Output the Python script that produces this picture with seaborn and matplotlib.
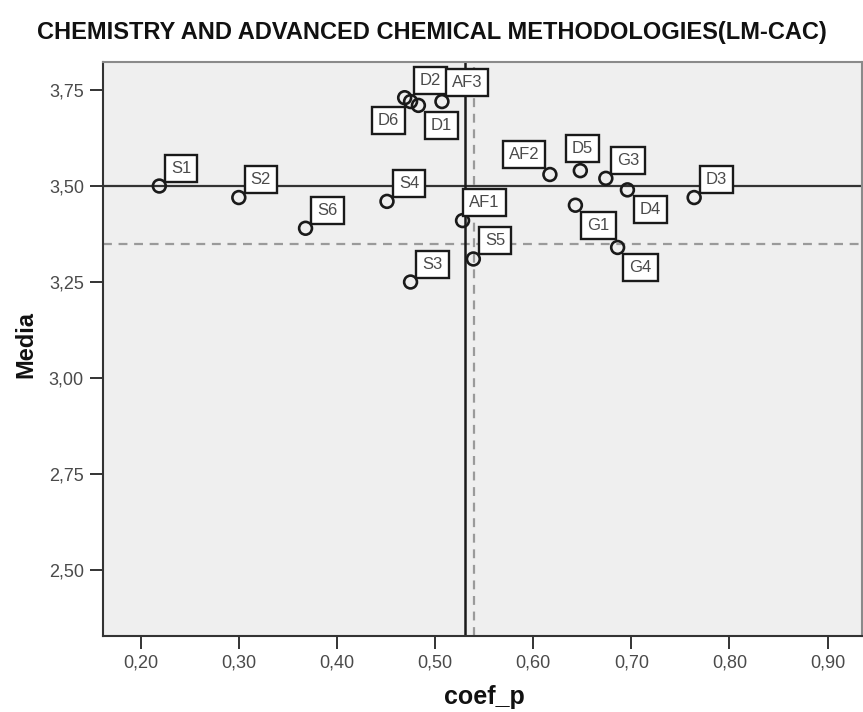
import pandas as pd
import numpy as np
import matplotlib
matplotlib.use("Agg")
import matplotlib.pyplot as plt
import seaborn as sns

# item labels, p coefficient and mean score
labels = ['S1', 'S2', 'S6', 'S4', 'S3', 'D6', 'D2', 'D1', 'AF3',
          'AF1', 'S5', 'AF2', 'G1', 'D5', 'G3', 'G4', 'D4', 'D3']
coef_p = [0.219, 0.300, 0.368, 0.451, 0.475, 0.469, 0.475, 0.483, 0.507,
          0.528, 0.539, 0.617, 0.643, 0.648, 0.674, 0.686, 0.696, 0.764]
media = [3.50, 3.47, 3.39, 3.46, 3.25, 3.73, 3.72, 3.71, 3.72,
         3.41, 3.31, 3.53, 3.45, 3.54, 3.52, 3.34, 3.49, 3.47]

# reference lines
mean_p = 0.53
median_p = 0.54
mean_media = 3.50
median_media = 3.35

xticks = [0.2, 0.3, 0.4, 0.5, 0.6, 0.7, 0.8, 0.9]
yticks = [2.50, 2.75, 3.00, 3.25, 3.50, 3.75]

df = pd.DataFrame({'label': labels, 'coef_p': coef_p, 'Media': media})

# where each label box sits relative to its point (pixels)
default_off = (22, 18)
label_off = {'AF2': (-26, 20), 'D5': (2, 22), 'D4': (23, -20), 'G1': (23, -20),
             'G4': (23, -20), 'D1': (23, -20), 'D6': (-16, -23), 'D2': (20, 21),
             'AF3': (25, 19)}

sns.set_style('white')
plt.rcParams['font.family'] = ['Liberation Sans', 'DejaVu Sans']

fig = plt.figure(figsize=(8.63, 7.12), dpi=100)
ax = fig.add_axes([0.119, 0.1072, 0.8798, 0.8061])
ax.set_facecolor('#efefef')

ax.axhline(mean_media, color='#333333', lw=1.6, zorder=1)
ax.axhline(median_media, color='#9a9a9a', lw=1.6, ls=(0, (4, 3)), zorder=1)
ax.axvline(mean_p, color='#1a1a1a', lw=1.8, zorder=1)
ax.axvline(median_p, color='#9a9a9a', lw=1.6, ls=(0, (4, 3)), zorder=1)

sns.scatterplot(data=df, x='coef_p', y='Media', ax=ax, s=85,
                facecolor='none', edgecolor='#1a1a1a', linewidth=1.9, zorder=3)

for lab, x, y in zip(labels, coef_p, media):
    dx, dy = label_off.get(lab, default_off)
    ax.annotate(lab, (x, y), xytext=(dx, dy), textcoords='offset pixels',
                ha='center', va='center', fontsize=12, color='#4a4a4a',
                bbox=dict(boxstyle='square,pad=0.36', fc='white', ec='#1a1a1a', lw=1.7),
                zorder=4)

ax.set_xlim(0.1613, 0.935)
ax.set_ylim(2.329, 3.8237)
ax.set_xticks(xticks)
ax.set_yticks(yticks)
ax.set_xticklabels([f'{v:.2f}'.replace('.', ',') for v in xticks])
ax.set_yticklabels([f'{v:.2f}'.replace('.', ',') for v in yticks])
ax.tick_params(axis='both', direction='out', length=9.5, width=1.4, color='#333333',
               labelsize=13, labelcolor='#4a4a4a', pad=4)
ax.tick_params(axis='x', bottom=True)
ax.tick_params(axis='y', left=True)

for side in ['left', 'bottom']:
    ax.spines[side].set_color('#333333')
    ax.spines[side].set_linewidth(1.5)
for side in ['top', 'right']:
    ax.spines[side].set_color('#8a8a8a')
    ax.spines[side].set_linewidth(1.5)

ax.set_xlabel('')
ax.set_ylabel('')
fig.text(0.5616, 1 - 697 / 712, 'coef_p', ha='center', va='center',
         fontsize=18, fontweight='bold', color='#111111')
fig.text(26 / 863, 1 - 345 / 712, 'Media', ha='center', va='center', rotation=90,
         fontsize=17, fontweight='bold', color='#111111')
fig.text(0.5, 1 - 33 / 712, 'CHEMISTRY AND ADVANCED CHEMICAL METHODOLOGIES(LM-CAC)',
         ha='center', va='center', fontsize=17, fontweight='bold', color='#111111')

plt.savefig('out.png', dpi=100)
